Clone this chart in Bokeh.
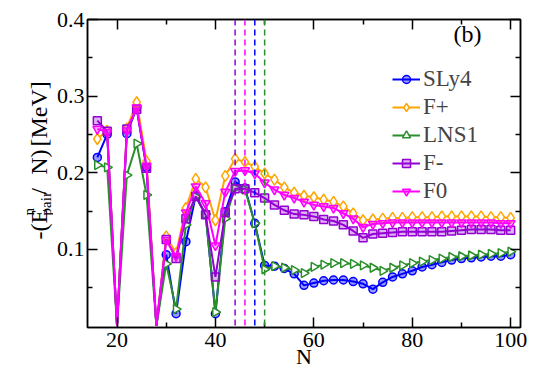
import math
from bokeh.plotting import figure
from bokeh.layouts import row
from bokeh.models import (ColumnDataSource, Range1d, FixedTicker, LinearAxis,
                          Span, Label, Legend, LegendItem)
from bokeh.core.properties import value
from bokeh.embed import file_html
from bokeh.resources import INLINE

# ---------------- data ----------------
N = [16, 18, 20, 22, 24, 26, 28, 30, 32, 34, 36, 38, 40, 42, 44, 46, 48, 50,
     52, 54, 56, 58, 60, 62, 64, 66, 68, 70, 72, 74, 76, 78, 80, 82, 84, 86,
     88, 90, 92, 94, 96, 98, 100]

sly4 = [0.220, 0.250, 0.0, 0.251, 0.285, 0.207, 0.0, 0.093, 0.016, 0.110,
        0.170, 0.146, 0.016, 0.149, 0.188, 0.180, 0.134, 0.079, 0.078, 0.075,
        0.068, 0.053, 0.056, 0.059, 0.060, 0.060, 0.058, 0.055, 0.048, 0.057,
        0.064, 0.068, 0.072, 0.077, 0.080, 0.083, 0.086, 0.088, 0.089, 0.090,
        0.091, 0.091, 0.093]

fplus = [0.244, 0.255, 0.0, 0.258, 0.292, 0.215, 0.0, 0.117, 0.095, 0.154,
         0.192, 0.181, 0.138, 0.196, 0.218, 0.214, 0.208, 0.199, 0.191, 0.181,
         0.174, 0.170, 0.168, 0.165, 0.162, 0.156, 0.147, 0.138, 0.139, 0.140,
         0.141, 0.141, 0.142, 0.142, 0.142, 0.143, 0.143, 0.143, 0.143, 0.143,
         0.142, 0.142, 0.141]

lns1 = [0.210, 0.207, 0.0, 0.197, 0.238, 0.171, 0.0, 0.081, 0.022, 0.132,
        0.169, 0.146, 0.018, 0.140, 0.180, 0.178, 0.134, 0.074, 0.078, 0.076,
        0.073, 0.069, 0.077, 0.080, 0.082, 0.082, 0.081, 0.079, 0.076, 0.072,
        0.076, 0.079, 0.082, 0.084, 0.086, 0.088, 0.090, 0.091, 0.092, 0.093,
        0.094, 0.095, 0.097]

fminus = [0.268, 0.254, 0.0, 0.257, 0.283, 0.206, 0.0, 0.113, 0.088, 0.140,
          0.169, 0.145, 0.064, 0.148, 0.179, 0.179, 0.174, 0.167, 0.158, 0.151,
          0.146, 0.145, 0.143, 0.139, 0.137, 0.132, 0.124, 0.115, 0.120, 0.121,
          0.122, 0.123, 0.123, 0.123, 0.123, 0.123, 0.124, 0.125, 0.126, 0.126,
          0.126, 0.125, 0.125]

fzero = [0.257, 0.253, 0.0, 0.255, 0.285, 0.209, 0.0, 0.112, 0.091, 0.148,
         0.182, 0.160, 0.105, 0.175, 0.202, 0.203, 0.199, 0.187, 0.178, 0.171,
         0.167, 0.162, 0.158, 0.156, 0.154, 0.147, 0.140, 0.129, 0.133, 0.134,
         0.135, 0.135, 0.135, 0.135, 0.135, 0.135, 0.135, 0.135, 0.135, 0.135,
         0.135, 0.134, 0.134]

labels = ["SLy4", "F+", "LNS1", "F-", "F0"]
shell_N = [44, 46, 48, 50]           # dashed verticals
x_ticks = [20, 40, 60, 80, 100]
x_minor = [30, 50, 70, 90]
y_ticks = [0.1, 0.2, 0.3, 0.4]
y_minor = [0.05, 0.15, 0.25, 0.35]

# ---------------- styles ----------------
BLUE = "#0000ff"
ORANGE = "#ffa500"
GREEN = "#2a8f2a"
PURPLE = "#9400d3"
MAGENTA = "#ff00ff"
FONT = "Liberation Serif"

styles = [
    dict(color=BLUE, marker="circle", size=8, fill=BLUE, falpha=0.4, angle=0.0),
    dict(color=ORANGE, marker="diamond", size=11, fill="white", falpha=1.0, angle=0.0),
    dict(color=GREEN, marker="triangle", size=9, fill="white", falpha=1.0, angle=-math.pi / 2),
    dict(color=PURPLE, marker="square", size=8, fill=PURPLE, falpha=0.3, angle=0.0),
    dict(color=MAGENTA, marker="inverted_triangle", size=9, fill=MAGENTA, falpha=0.3, angle=0.0),
]
span_colors = [PURPLE, MAGENTA, BLUE, GREEN]

STRIP_W = 53
H = 371

# ---------------- main plot ----------------
p = figure(width=533 - STRIP_W, height=H, output_backend="svg", toolbar_location=None,
           x_range=Range1d(14, 102), y_range=Range1d(-0.002, 0.4),
           min_border_left=87 - STRIP_W, min_border_right=13, min_border_top=19,
           min_border_bottom=44)
p.grid.visible = False
p.outline_line_color = "black"
p.outline_line_width = 1.5
p.background_fill_color = "white"
p.border_fill_color = "white"


def style_axis(ax, ticks, minor, show_labels=True, standoff=4):
    ax.ticker = FixedTicker(ticks=ticks, minor_ticks=minor)
    ax.axis_line_color = "black"
    ax.axis_line_width = 1.5
    ax.major_tick_line_width = 1.5
    ax.minor_tick_line_width = 1.5
    ax.major_tick_in = 10
    ax.major_tick_out = 0
    ax.minor_tick_in = 5
    ax.minor_tick_out = 0
    ax.major_label_text_font = FONT
    if show_labels:
        ax.major_label_text_color = "black"
        ax.major_label_text_font_size = "22px"
        ax.major_label_standoff = standoff
    else:
        ax.major_label_text_color = None
        ax.major_label_text_font_size = "1px"
        ax.major_label_standoff = 0


style_axis(p.xaxis[0], x_ticks, x_minor, True, 5)
style_axis(p.yaxis[0], y_ticks, y_minor, True, 3)
p.xaxis[0].axis_label = "N"
p.xaxis[0].axis_label_text_font = FONT
p.xaxis[0].axis_label_text_font_size = "22px"
p.xaxis[0].axis_label_text_font_style = "normal"
p.xaxis[0].axis_label_text_color = "black"
p.xaxis[0].axis_label_standoff = -6

top_ax = LinearAxis()
style_axis(top_ax, x_ticks, x_minor, False)
p.add_layout(top_ax, "above")
right_ax = LinearAxis()
style_axis(right_ax, y_ticks, y_minor, False)
p.add_layout(right_ax, "right")

# dashed verticals
for loc, col in zip(shell_N, span_colors):
    p.add_layout(Span(location=loc, dimension="height", line_color=col,
                      line_dash="6 4", line_width=1.5))

items = []
for name, vals, st in zip(labels, [sly4, fplus, lns1, fminus, fzero], styles):
    src = ColumnDataSource(dict(x=N, y=vals))
    mx = [n for n, v in zip(N, vals) if v > 0]
    my = [v for v in vals if v > 0]
    msrc = ColumnDataSource(dict(x=mx, y=my))
    lr = p.line("x", "y", source=src, line_color=st["color"], line_width=2)
    sr = p.scatter("x", "y", source=msrc, marker=st["marker"], size=st["size"],
                   angle=st["angle"], line_color=st["color"], line_width=1.5,
                   fill_color=st["fill"], fill_alpha=st["falpha"])
    items.append(LegendItem(label=name, renderers=[lr, sr]))

legend = Legend(items=items, location=(305, 123), border_line_color=None,
                background_fill_alpha=0, label_text_font=FONT,
                label_text_font_size="23px", glyph_width=28, glyph_height=20,
                label_height=20, spacing=2, padding=0, margin=0,
                label_standoff=3)
p.add_layout(legend)

# panel tag
p.add_layout(Label(x=366, y=281, x_units="screen", y_units="screen", text="(b)",
                   text_font=FONT, text_font_size="24px", text_color="black"))

# ---------------- left strip carrying the rotated y title ----------------
s = figure(width=STRIP_W, height=H, output_backend="svg", toolbar_location=None,
           x_range=Range1d(0, STRIP_W), y_range=Range1d(0, H),
           x_axis_location=None, y_axis_location=None,
           min_border=0, min_border_left=0, min_border_right=0,
           min_border_top=0, min_border_bottom=0)
s.grid.visible = False
s.outline_line_color = None
s.background_fill_color = "white"
s.border_fill_color = "white"

A = math.pi / 2
# (text, screen x of baseline, screen y of start, font size)
ypieces = [
    ("-(E", 38, 265, "24px"),
    ("n", 28, 236, "15px"),
    ("pair", 45, 236, "15px"),
    ("/", 38, 211, "24px"),
    ("N)", 38, 187, "24px"),
    ("[MeV]", 38, 153, "24px"),
]
for txt, sx, sy, fs in ypieces:
    s.text(x=[sx], y=[H - sy], text=[txt], angle=A, text_align="left",
           text_baseline="alphabetic", text_font=value(FONT),
           text_font_size=value(fs), text_color="black")

layout = row(s, p, spacing=0)
open("out.html", "w").write(file_html(layout, INLINE))
